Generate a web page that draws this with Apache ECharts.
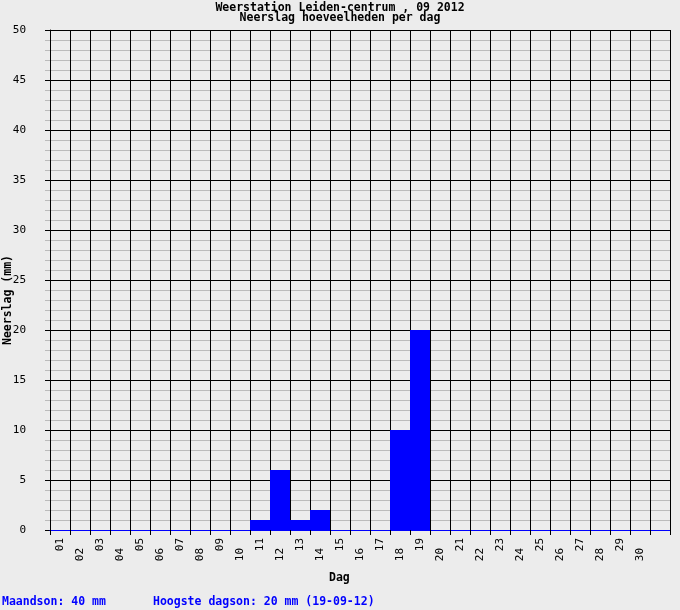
<!DOCTYPE html>
<html><head><meta charset="utf-8">
<script src="https://cdn.jsdelivr.net/npm/echarts@6/dist/echarts.min.js"></script>
<style>html,body{margin:0;padding:0;background:#ececec}#c{width:680px;height:610px}</style>
</head><body><div id="c"></div>
<script>
var days = ['01','02','03','04','05','06','07','08','09','10','11','12','13','14','15','16','17','18','19','20','21','22','23','24','25','26','27','28','29','30'];
var rain = [0,0,0,0,0,0,0,0,0,0,1,6,1,2,0,0,0,10,20,0,0,0,0,0,0,0,0,0,0,0];
var yTicks = [0,5,10,15,20,25,30,35,40,45,50];
var titleText = 'Weerstation Leiden-centrum , 09 2012';
var subText = 'Neerslag hoeveelheden per dag';
var footLeft = 'Maandson: 40 mm';
var footRight = 'Hoogste dagson: 20 mm (19-09-12)';

var cats = days.concat(['']);
var barData = rain.concat(['-']);
var mono = 'DejaVu Sans Mono';
var tBold = {fontFamily: mono, fontSize: 11.5, fontWeight: 'bold', color: '#000'};
var chart = echarts.init(document.getElementById('c'));
chart.setOption({
  backgroundColor: '#ececec',
  animation: false,
  title: [
    {text: titleText, left: 'center', top: -3, padding: 5, textStyle: tBold},
    {text: subText, left: 'center', top: 7, padding: 5, textStyle: tBold},
    {text: 'Dag', left: 324, top: 567, textStyle: tBold},
    {text: footLeft, left: -3, top: 591, textStyle: Object.assign({}, tBold, {color: '#0000ff'})},
    {text: footRight, left: 148, top: 591, textStyle: Object.assign({}, tBold, {color: '#0000ff'})}
  ],
  grid: {left: 50, right: 10, top: 30, bottom: 80, containLabel: false, outerBoundsMode: 'none'},
  xAxis: {
    type: 'category', data: cats, boundaryGap: true, z: 5,
    axisLine: {show: true, lineStyle: {color: '#0000ff', width: 1}},
    axisTick: {show: true, interval: 0, length: 5, lineStyle: {color: '#000'}},
    axisLabel: {
      interval: 0, rotate: 90, margin: 8, fontFamily: mono, fontSize: 11, color: '#000',
      formatter: function(v, i){ return i % 2 === 1 ? '{e|' + v + '}' : '{o|' + v + '}'; },
      rich: {
        o: {fontFamily: mono, fontSize: 11, color: '#000'},
        e: {fontFamily: mono, fontSize: 11, color: '#000', padding: [0, 10, 0, 0]}
      }
    },
    splitLine: {show: true, interval: 0, lineStyle: {color: '#000', width: 1}}
  },
  yAxis: {
    type: 'value', min: yTicks[0], max: yTicks[yTicks.length-1], interval: 5,
    name: 'Neerslag (mm)', nameLocation: 'middle', nameGap: 36, nameMoveOverlap: false,
    nameTextStyle: Object.assign({}, tBold, {padding: [0, 40, 0, 0]}),
    axisLine: {show: true, lineStyle: {color: '#000'}},
    axisTick: {show: true, length: 5, lineStyle: {color: '#000'}},
    minorTick: {show: true, splitNumber: 5, length: 5, lineStyle: {color: '#bbbbbb'}},
    axisLabel: {margin: 24, fontFamily: mono, fontSize: 11, color: '#000'},
    splitLine: {show: true, lineStyle: {color: '#000', width: 1}},
    minorSplitLine: {show: true, lineStyle: {color: '#bbbbbb', width: 1}}
  },
  series: [{
    type: 'bar', data: barData, barWidth: 20, barGap: '0%', barCategoryGap: '0%',
    itemStyle: {color: '#0000ff'}, z: 6
  }]
});
</script></body></html>
